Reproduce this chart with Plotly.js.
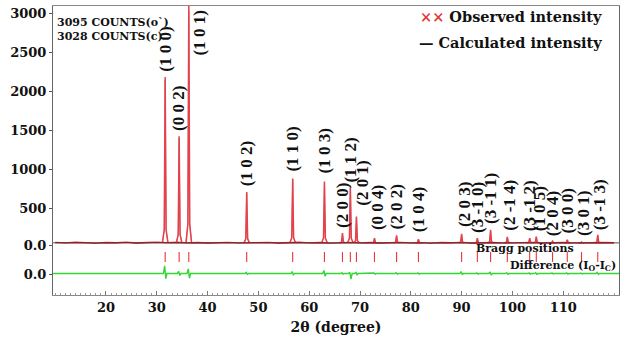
<!DOCTYPE html>
<html><head><meta charset="utf-8">
<script src="https://cdn.plot.ly/plotly-3.0.1.min.js"></script>
<style>html,body{margin:0;padding:0;background:#fff}</style>
</head><body><div id="chart" style="width:626px;height:342px"></div>
<script>
// ---- data ----
const peakLabels = ["(1 0 0)","(0 0 2)","(1 0 1)","(1 0 2)","(1 1 0)","(1 0 3)","(2 0 0)","(1 1 2)","(2 0 1)","(0 0 4)","(2 0 2)","(1 0 4)","(2 0 3)","(3 -1 0)","(3 -1 1)","(2 -1 4)","(3 -1 2)","(1 0 5)","(2 0 4)","(3 0 0)","(3 0 1)","(3 -1 3)"];
const peakPos  = [31.65, 34.4, 36.3, 47.7, 56.75, 63.0, 66.55, 68.1, 69.3, 72.85, 77.2, 81.5, 90.0, 93.1, 95.7, 99.0, 103.4, 104.7, 107.9, 110.8, 113.6, 116.8];
const peakObs  = [2180, 1420, 3095, 705, 880, 840, 180, 760, 390, 115, 150, 100, 170, 115, 220, 130, 115, 135, 75, 95, 65, 155];
const peakCalc = [2140, 1395, 3028, 690, 865, 820, 170, 790, 375, 110, 140, 95, 160, 110, 205, 125, 110, 130, 70, 90, 62, 145];
const diffUp   = [100, 30, 60, 15, 25, 40, 10, 15, 15, 8, 10, 8, 25, 8, 20, 10, 8, 10, 8, 8, 6, 15];
const diffDown = [65, 25, 60, 10, 15, 35, 8, 70, 15, 8, 8, 8, 10, 8, 20, 10, 8, 10, 6, 8, 6, 12];
const bgX   = [10,12,14,16,18,20,22,24,26,28,30,32,34,36,38,40,42,44,46,48,50,52,54,56,58,60,62,64,66,68,70,72,74,76,78,80,82,84,86,88,90,92,94,96,98,100,102,104,106,108,110,112,114,116,118,120];
const bgObs = [58,52,60,55,49,57,53,61,50,56,62,54,60,52,57,50,55,59,51,56,53,58,50,55,60,52,57,49,55,59,52,56,50,54,58,51,55,49,56,53,58,50,54,57,51,55,52,58,50,54,56,51,55,50,57,53];
const calcBgX = [9.6, 121];
const calcBg  = [54, 53];
const obsBase = 54;
const diffBase = -340;

// ---- presentation constants ----
const shapeDx = [-0.55, -0.18, 0, 0.18, 0.55];
const shapeF  = [0, 0.08, 1, 0.08, 0];
const labelDx = [0, 0, 2.2, 0, 0, 0, 0, 0, 1.2, 0.6, 0, 0, 0.6, 0, 0, 0.4, 0, 0.6, 0, 0, 0.4, 0.4];
const labelDy = [3, 3, 0, 4, 5, 6, 3, 3, 9, 6, 4, 5, 5, 3, 4, 4, 5, 3, 3, 4, 4, 3];
const braggY = -128;

function peakTrace(heights){
  const x=[], y=[];
  peakPos.forEach((p,i)=>{
    shapeDx.forEach((d,k)=>{ x.push(p+d); y.push(obsBase + shapeF[k]*(heights[i]-obsBase)); });
    x.push(null); y.push(null);
  });
  return {x, y};
}
const obsPk = peakTrace(peakObs);
const calcPk = peakTrace(peakCalc);

const dX=[9.6], dY=[diffBase];
peakPos.forEach((p,i)=>{
  dX.push(p-0.35, p-0.1, p+0.12, p+0.35);
  dY.push(diffBase, diffBase+diffUp[i], diffBase-diffDown[i], diffBase);
});
dX.push(121); dY.push(diffBase);

const RED = '#e8343c';
const traces = [
  {x: bgX, y: bgObs, mode:'lines', line:{color:RED, width:1.6}, hoverinfo:'skip'},
  {x: calcPk.x, y: calcPk.y, mode:'lines', line:{color:'#444', width:0.5}, connectgaps:false, hoverinfo:'skip'},
  {x: obsPk.x, y: obsPk.y, mode:'lines', line:{color:'#e6404a', width:1.5}, connectgaps:false, hoverinfo:'skip'},
  {x: calcBgX, y: calcBg, mode:'lines', line:{color:'#222', width:0.8}, hoverinfo:'skip'},
  {x: peakPos, y: peakPos.map(()=>braggY), mode:'markers', marker:{symbol:'line-ns', size:7, line:{color:RED, width:1.1}}, hoverinfo:'skip'},
  {x: dX, y: dY, mode:'lines', line:{color:'#33d633', width:1.4}, hoverinfo:'skip'}
];

const SERIF = 'DejaVu Serif, serif';
const LSERIF = 'Liberation Serif, Times New Roman, serif';
const annotations = [];
peakLabels.forEach((t,i)=>{
  if (i===2){
    annotations.push({x: peakPos[i]+labelDx[i], y: 3064, xref:'x', yref:'y', text:t, showarrow:false, textangle:-90,
      xanchor:'center', yanchor:'top', font:{family:LSERIF, size:17, color:'#111', weight:'bold'}});
  } else {
    annotations.push({x: peakPos[i]+labelDx[i], y: peakObs[i], xref:'x', yref:'y', text:t, showarrow:false, textangle:-90,
      xanchor:'center', yanchor:'bottom', yshift: labelDy[i], font:{family:LSERIF, size:17, color:'#111', weight:'bold'}});
  }
});
annotations.push(
  {xref:'paper', yref:'paper', x:0.0035, y:0.9446, xanchor:'left', yanchor:'middle', showarrow:false,
   text:'3095 COUNTS(o`)', font:{family:SERIF, size:11, color:'#111', weight:'bold'}},
  {xref:'paper', yref:'paper', x:0.0035, y:0.896, xanchor:'left', yanchor:'middle', showarrow:false,
   text:'3028 COUNTS(c)', font:{family:SERIF, size:11, color:'#111', weight:'bold'}},
  {xref:'paper', yref:'paper', x:0.9735, y:0.962, xanchor:'right', yanchor:'middle', showarrow:false,
   text:'<span style="color:'+RED+'">××</span> Observed intensity', font:{family:SERIF, size:14.5, color:'#111', weight:'bold'}},
  {xref:'paper', yref:'paper', x:0.9735, y:0.872, xanchor:'right', yanchor:'middle', showarrow:false,
   text:'— Calculated intensity', font:{family:SERIF, size:14.5, color:'#111', weight:'bold'}},
  {xref:'x', yref:'y', x:102.5, y:-13, xanchor:'center', yanchor:'middle', showarrow:false,
   text:'Bragg positions', font:{family:SERIF, size:11, color:'#111', weight:'bold'}},
  {xref:'paper', yref:'y', x:0.998, y:-244, xanchor:'right', yanchor:'middle', showarrow:false,
   text:'Difference (I<sub>O</sub>-I<sub>C</sub>)', font:{family:SERIF, size:11, color:'#111', weight:'bold'}}
);

const layout = {
  width:626, height:342,
  margin:{l:53, r:7, t:6, b:47},
  paper_bgcolor:'#fff', plot_bgcolor:'#fff',
  showlegend:false,
  xaxis:{range:[9.57, 120.98], tickvals:[20,30,40,50,60,70,80,90,100,110], ticks:'inside', ticklen:4, tickcolor:'#777',
    minor:{ticks:'inside', ticklen:2.5, dtick:1, tick0:0, tickcolor:'#999'},
    showline:true, linecolor:'#888', linewidth:1, mirror:true, showgrid:false, zeroline:false,
    tickfont:{family:SERIF, size:13, color:'#111', weight:'bold'},
    title:{text:'2θ (degree)', standoff:8, font:{family:SERIF, size:14, color:'#111', weight:'bold'}}},
  yaxis:{range:[-615, 3090], tickvals:[-346, 25, 500, 1000, 1500, 2000, 2500, 3000],
    ticktext:['0.0','0.0','500','1000','1500','2000','2500','3000'], ticks:'outside', ticklen:3, tickcolor:'#555',
    showline:true, linecolor:'#666', linewidth:1, mirror:true, showgrid:false, zeroline:false,
    tickfont:{family:SERIF, size:13, color:'#111', weight:'bold'}},
  annotations
};
Plotly.newPlot('chart', traces, layout, {displayModeBar:false, staticPlot:true});
</script></body></html>
